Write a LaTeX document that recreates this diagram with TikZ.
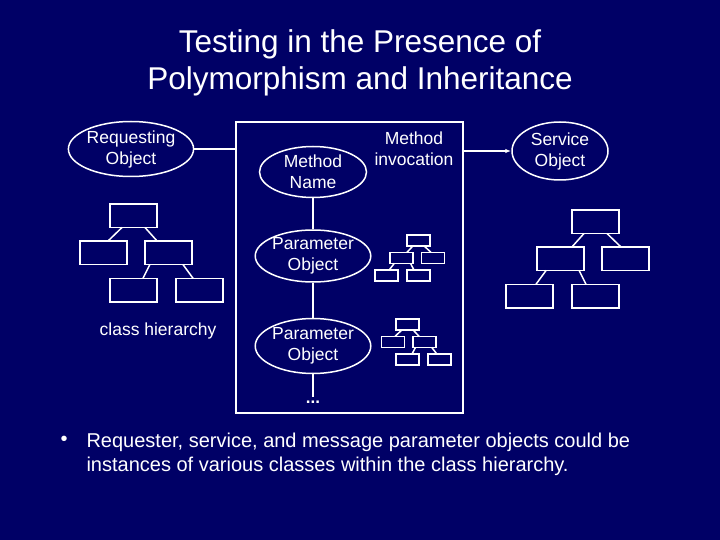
\documentclass[tikz,border=0pt]{standalone}
\usepackage{fontspec}
\setmainfont{Liberation Sans}
\usetikzlibrary{shapes.geometric,arrows.meta}
\definecolor{bg}{HTML}{000066}
\begin{document}
\begin{tikzpicture}[x=1pt,y=-1pt,
  wl/.style={draw=white,line width=1.5pt},
  ell/.style={ellipse,draw=white,line width=1.5pt,text=white,align=center,inner sep=0pt,font=\fontsize{17.5}{21}\selectfont},
  txt/.style={text=white,align=center,font=\fontsize{17.5}{21}\selectfont}]
\fill[bg] (0,0) rectangle (720,540);
\useasboundingbox (0,0) rectangle (720,540);
\node[text=white,align=center,font=\fontsize{31.5}{37}\selectfont] (title) at (360,63) {Testing in the Presence of\\Polymorphism and Inheritance};
% main box
\draw[wl] (236,122) rectangle (463,413);
\node[ell,minimum width=106pt,minimum height=55pt] (req) at (131,149) {Requesting\\Object};
\coordinate (bl) at (236,149);
\coordinate (br) at (463,151);
\node[ell,minimum width=107pt,minimum height=51pt] (mn) at (313,172) {Method\\Name};
\node[ell,minimum width=107pt,minimum height=52pt] (p1) at (313,256) {Parameter\\Object};
\node[ell,minimum width=107pt,minimum height=55pt] (p2) at (313,346) {Parameter\\Object};
\node[ell,minimum width=96pt,minimum height=58pt] (srv) at (560,151) {Service\\Object};
\node[txt] (mi) at (414,149) {Method\\invocation};
\node[txt] (ch) at (158,331) {class hierarchy};
\node[text=white,font=\fontsize{17}{19}\selectfont\bfseries] (dots) at (313,402) {...};
\coordinate (pend) at (313,397);
\draw[wl] (req.east) -- (bl);
\draw[wl,-{Latex[length=6pt]}] (br) -- (srv.west);
\draw[wl] (mn) -- (p1);
\draw[wl] (p1) -- (p2);
\draw[wl] (p2.south) -- (pend);
% hierarchy: #1 top-centre x, #2 top y, #3 w, #4 h, #5 mirror (1 or -1)
\newcommand{\hier}[5]{%
\begin{scope}[shift={(#1,#2)},xscale=#5]
\pgfmathsetmacro{\w}{#3}\pgfmathsetmacro{\h}{#4}
\draw[wl] (-0.5*\w,0) rectangle ++(\w,\h);
\draw[wl] (-1.14*\w,{\h*1.57}) rectangle ++(\w,\h);
\draw[wl] (0.245*\w,{\h*1.57}) rectangle ++(\w,\h);
\draw[wl] (-0.5*\w,{\h*3.17}) rectangle ++(\w,\h);
\draw[wl] (0.9*\w,{\h*3.17}) rectangle ++(\w,\h);
\draw[wl] (-0.245*\w,\h) -- (-0.54*\w,{\h*1.57});
\draw[wl] (0.245*\w,\h) -- (0.5*\w,{\h*1.57});
\draw[wl] (0.35*\w,{\h*2.57}) -- (0.2*\w,{\h*3.17});
\draw[wl] (1.05*\w,{\h*2.57}) -- (1.27*\w,{\h*3.17});
\end{scope}}
\hier{133.5}{204}{47}{23.5}{1}
\hier{595.5}{210}{47}{23.5}{-1}
\hier{418.5}{235}{23}{11}{-1}
\hier{407.5}{319}{23}{11}{1}
% bullet
\node[text=white,font=\fontsize{20}{24}\selectfont] (bul) at (64,441) {\textbullet};
\node[text=white,anchor=north west,align=left,font=\fontsize{20}{24}\selectfont] (bt) at (83,429) {Requester, service, and message parameter objects could be\\instances of various classes within the class hierarchy.};
\end{tikzpicture}
\end{document}
